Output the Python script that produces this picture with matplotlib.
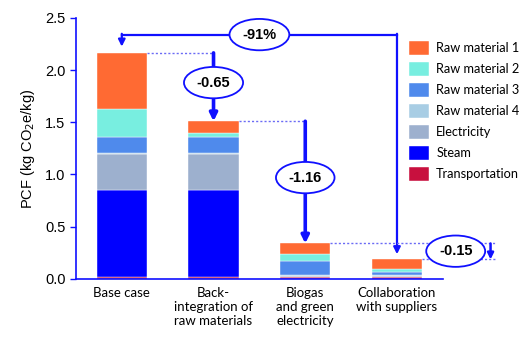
import matplotlib
matplotlib.use('Agg')
import matplotlib.pyplot as plt
import numpy as np

# data (kg CO2e/kg)
categories = ["Base case", "Back-\nintegration of\nraw materials",
              "Biogas\nand green\nelectricity", "Collaboration\nwith suppliers"]
transportation = [0.02, 0.02, 0.02, 0.02]
steam = [0.83, 0.83, 0.0, 0.0]
electricity = [0.35, 0.35, 0.005, 0.01]
raw_material_4 = [0.005, 0.005, 0.012, 0.01]
raw_material_3 = [0.15, 0.15, 0.137, 0.03]
raw_material_2 = [0.27, 0.045, 0.065, 0.022]
raw_material_1 = [0.54, 0.11, 0.10, 0.094]

series = [
    ("Transportation", transportation, "#C8103E"),
    ("Steam", steam, "#0000FF"),
    ("Electricity", electricity, "#9DB0CE"),
    ("Raw material 4", raw_material_4, "#A8CDE4"),
    ("Raw material 3", raw_material_3, "#4F8AEC"),
    ("Raw material 2", raw_material_2, "#78EEE0"),
    ("Raw material 1", raw_material_1, "#FF6A33"),
]

deltas = ["-91%", "-0.65", "-1.16", "-0.15"]

blue = "#1010FF"
dot_blue = "#6B6BF5"
font_lbl = "Liberation Sans"
font_cat = "Lato"

fig = plt.figure(figsize=(5.31, 3.38), dpi=100)
ax = fig.add_axes([0.143, 0.175, 0.691, 0.772])

x = np.arange(len(categories))
width = 0.55
bottom = np.zeros(len(categories))
handles = []
for name, vals, color in series:
    b = ax.bar(x, vals, width, bottom=bottom, color=color, label=name,
               edgecolor="white", linewidth=0.3, zorder=2)
    handles.append(b)
    bottom += np.array(vals)
totals = bottom

ax.set_xlim(-0.5, 3.5)
ax.set_ylim(0, 2.5)
ax.set_yticks([0, 0.5, 1.0, 1.5, 2.0, 2.5])
ax.set_yticklabels(["0.0", "0.5", "1.0", "1.5", "2.0", "2.5"],
                   fontsize=10.5, family=font_lbl)
ax.set_xticks(x)
ax.set_xticklabels(categories, fontsize=9.5, family=font_cat, linespacing=1.2)
ax.tick_params(axis="x", length=0, pad=6)
ax.tick_params(axis="y", color=blue, length=4, width=1)
for s in ["top", "right"]:
    ax.spines[s].set_visible(False)
for s in ["left", "bottom"]:
    ax.spines[s].set_color(blue)
    ax.spines[s].set_linewidth(1.2)
ax.set_ylabel("PCF (kg CO$_2$e/kg)", fontsize=10.5, family=font_lbl, labelpad=6)

# legend, top entry first
leg = fig.legend(handles[::-1], [s[0] for s in series][::-1],
                 loc="upper left", bbox_to_anchor=(0.748, 0.912), frameon=False,
                 prop={"family": font_cat, "size": 9.2}, handlelength=1.6,
                 handleheight=1.3, labelspacing=0.55, handletextpad=0.55)

hw = width / 2
ell = dict(boxstyle="ellipse,pad=0.28", fc="white", ec=blue, lw=1.3)
txt = dict(fontsize=10.5, fontweight="bold", family=font_lbl, ha="center",
           va="center", zorder=6)

# -91 %: base case -> collaboration
y91 = 2.34
ax.plot([0, 3], [y91, y91], color=blue, lw=1.6, zorder=3, clip_on=False)
ax.annotate("", xy=(0, totals[0] + 0.06), xytext=(0, y91 + 0.008),
            arrowprops=dict(arrowstyle="-|>", color=blue, lw=1.6,
                            mutation_scale=10, shrinkA=0, shrinkB=0),
            annotation_clip=False)
ax.annotate("", xy=(3, totals[3] + 0.05), xytext=(3, y91 + 0.008),
            arrowprops=dict(arrowstyle="-|>", color=blue, lw=1.6,
                            mutation_scale=10, shrinkA=0, shrinkB=0),
            annotation_clip=False)
ax.text(1.5, y91, deltas[0], bbox=ell, **txt)

# step arrows between consecutive bars
lbl_y = [1.88, 0.97]
for i in range(2):
    ax.plot([i + hw, i + 1], [totals[i], totals[i]], color=dot_blue, lw=1,
            ls=(0, (1.5, 1.5)), zorder=3)
    ax.annotate("", xy=(i + 1, totals[i + 1]), xytext=(i + 1, totals[i]),
                arrowprops=dict(arrowstyle="-|>", color=blue, lw=2.6,
                                mutation_scale=11, shrinkA=0, shrinkB=0))
    ax.text(i + 1, lbl_y[i], deltas[i + 1], bbox=ell, **txt)

# -0.15: biogas -> collaboration
xr = 4.07
ax.plot([2 + hw, xr], [totals[2], totals[2]], color=dot_blue, lw=1,
        ls=(0, (1.5, 1.5)), zorder=3, clip_on=False)
ax.plot([3 + hw, xr], [totals[3], totals[3]], color=dot_blue, lw=1,
        ls=(0, (1.5, 1.5)), zorder=3, clip_on=False)
ax.annotate("", xy=(4.02, totals[3]), xytext=(4.02, totals[2]),
            arrowprops=dict(arrowstyle="-|>", color=blue, lw=1.8,
                            mutation_scale=9, shrinkA=0, shrinkB=0),
            annotation_clip=False)
ax.text(3.64, 0.265, deltas[3], bbox=ell, **txt)

fig.savefig("out.png", dpi=100)
